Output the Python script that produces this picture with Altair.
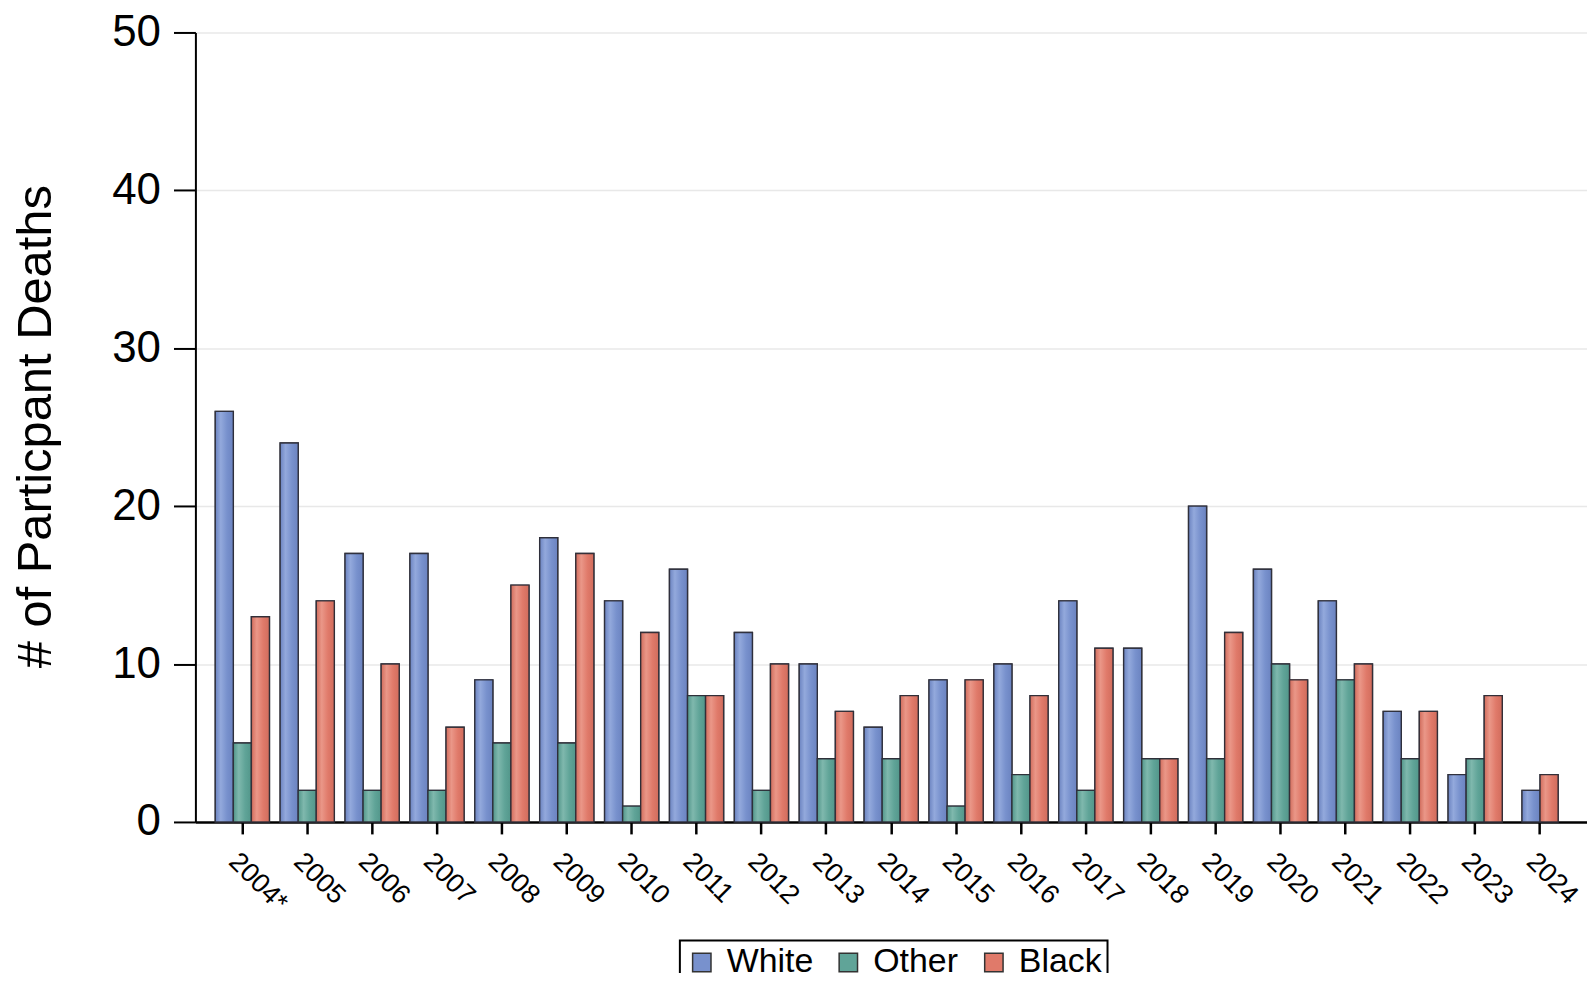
import altair as alt
import pandas as pd

years = ["2004*", "2005", "2006", "2007", "2008", "2009", "2010", "2011", "2012",
         "2013", "2014", "2015", "2016", "2017", "2018", "2019", "2020", "2021",
         "2022", "2023", "2024"]
white = [26, 24, 17, 17, 9, 18, 14, 16, 12, 10, 6, 9, 10, 14, 11, 20, 16, 14, 7, 3, 2]
other = [5, 2, 2, 2, 5, 5, 1, 8, 2, 4, 4, 1, 3, 2, 4, 4, 10, 9, 4, 4, 0]
black = [13, 14, 10, 6, 15, 17, 12, 8, 10, 7, 8, 9, 8, 11, 4, 12, 9, 10, 7, 8, 3]
races = ["White", "Other", "Black"]
colors = ["#7891cd", "#60a498", "#e07a6a"]
light = ["#93a9dc", "#7fb8ad", "#ea9788"]
dark = ["#6b83c0", "#52968a", "#d16c5c"]

full_rows, part_rows = [], []
for i, y in enumerate(years):
    vals = {"White": white[i], "Other": other[i], "Black": black[i]}
    present = [r for r in races if vals[r] > 0]
    target = full_rows if len(present) == 3 else part_rows
    for r in present:
        target.append({"year": y, "race": r, "deaths": vals[r]})
df_full = pd.DataFrame(full_rows)
df_part = pd.DataFrame(part_rows)
part_domain = [r for r in races if r in set(df_part["race"])]

FONT = "Liberation Sans"


def grad(i):
    return {
        "gradient": "linear", "x1": 0, "x2": 1, "y1": 0, "y2": 0,
        "stops": [
            {"offset": 0, "color": dark[i]},
            {"offset": 0.3, "color": light[i]},
            {"offset": 0.65, "color": colors[i]},
            {"offset": 1, "color": dark[i]},
        ],
    }


fill_grad = {
    "condition": [
        {"test": "datum.race === 'White'", "value": grad(0)},
        {"test": "datum.race === 'Other'", "value": grad(1)},
    ],
    "value": grad(2),
}

x_enc = alt.X(
    "year:N", sort=years,
    scale=alt.Scale(domain=years, paddingInner=0.165, paddingOuter=0.306),
    axis=alt.Axis(title=None, labelAngle=45, labelFontSize=27, tickSize=12,
                  tickWidth=2.5, labelPadding=14, grid=False, domainWidth=2.5,
                  labelFont=FONT, labelColor="black"),
)
y_enc = alt.Y(
    "deaths:Q", scale=alt.Scale(domain=[0, 50]),
    axis=alt.Axis(values=[0, 10, 20, 30, 40, 50], title="# of Particpant Deaths",
                  titleFontSize=49, titleFont=FONT, titleFontWeight="normal",
                  titleColor="black", titleAngle=270, titleX=-160, titleY=395,
                  titleAlign="center", titleBaseline="middle",
                  labelFontSize=44, labelFont=FONT, labelColor="black",
                  labelPadding=13, tickSize=22, tickWidth=2, domainWidth=2,
                  grid=True, gridColor="#e8e8e8", gridWidth=1.5),
)

off_full = alt.XOffset("race:N", scale=alt.Scale(domain=races, paddingInner=0, paddingOuter=0))
off_part = alt.XOffset("race:N", scale=alt.Scale(domain=part_domain, paddingInner=0, paddingOuter=0.5))

color_enc = alt.Color(
    "race:N", scale=alt.Scale(domain=races, range=colors),
    legend=alt.Legend(title=None, orient="none", legendX=486, legendY=911,
                      direction="horizontal", symbolType="square", symbolSize=340,
                      symbolStrokeColor="#333333", symbolStrokeWidth=1.5,
                      labelFontSize=34, labelFont=FONT, labelColor="black",
                      labelOffset=8, columnPadding=18, padding=5,
                      strokeColor="black"),
)

shadow_kw = dict(color="#bdbdbd", opacity=0.45, xOffset=4, yOffset=0)
bar_kw = dict(stroke="#2b2b35", strokeWidth=1.4, strokeOpacity=0.9)

shadow_full = alt.Chart(df_full).mark_bar(**shadow_kw).encode(x=x_enc, y=y_enc, xOffset=off_full)
shadow_part = alt.Chart(df_part).mark_bar(**shadow_kw).encode(x=x_enc, y=y_enc, xOffset=off_part)
solid_full = alt.Chart(df_full).mark_bar(**bar_kw).encode(x=x_enc, y=y_enc, xOffset=off_full, color=color_enc)
solid_part = alt.Chart(df_part).mark_bar(**bar_kw).encode(x=x_enc, y=y_enc, xOffset=off_part, color=color_enc)
grad_full = alt.Chart(df_full).mark_bar(**bar_kw).encode(x=x_enc, y=y_enc, xOffset=off_full, fill=fill_grad)
grad_part = alt.Chart(df_part).mark_bar(**bar_kw).encode(x=x_enc, y=y_enc, xOffset=off_part, fill=fill_grad)

chart = alt.layer(
    shadow_full, shadow_part, solid_full, solid_part, grad_full, grad_part
).resolve_scale(
    xOffset="independent"
).properties(
    width=1396, height=792,
    autosize=alt.AutoSizeParams(type="none"),
    padding={"left": 188, "top": 23, "right": 0, "bottom": 150},
).configure_view(
    stroke=None
).configure_axis(
    domainColor="black", tickColor="black"
).configure_legend(
    strokeWidth=2
)

chart.save("out.html", embed_options={"renderer": "svg", "actions": False})
